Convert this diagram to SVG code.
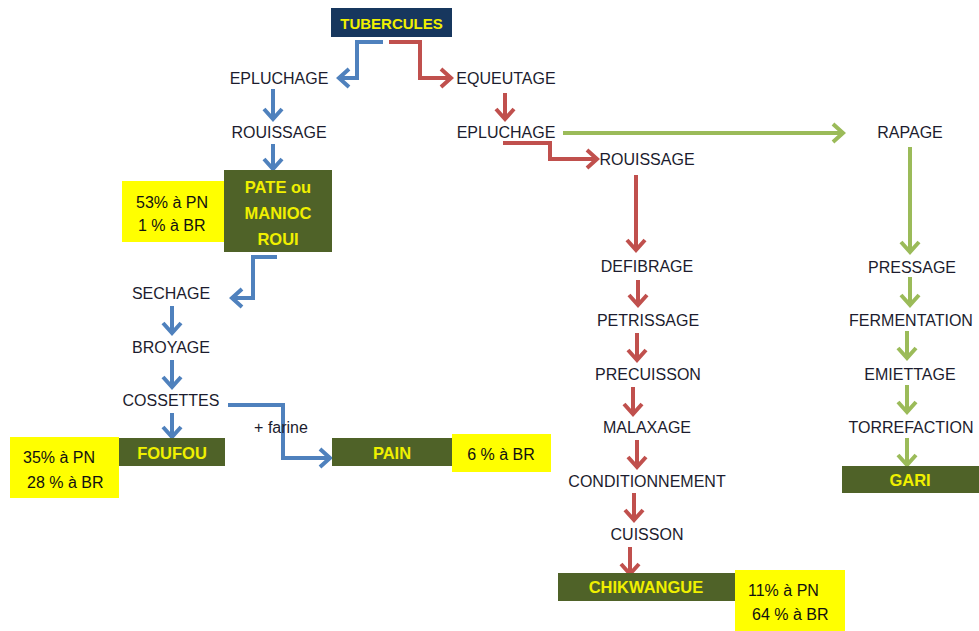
<svg xmlns="http://www.w3.org/2000/svg" width="979" height="631" viewBox="0 0 979 631">
<defs>
<style>
.t{font-family:"Liberation Sans",Arial,sans-serif;font-size:16px;fill:#1c1c2e;text-anchor:middle;dominant-baseline:central}
.y{font-family:"Liberation Sans",Arial,sans-serif;font-size:16px;fill:#111;dominant-baseline:central}
.b{font-family:"Liberation Sans",Arial,sans-serif;font-size:16.5px;font-weight:bold;fill:#f0f000;text-anchor:middle;dominant-baseline:central}
.g{fill:#4f6228}
.yb{fill:#ffff00}
.cb{fill:none;stroke:#4f81bd;stroke-width:4;stroke-linejoin:miter;marker-end:url(#mb)}
.cr{fill:none;stroke:#c0504d;stroke-width:4;stroke-linejoin:miter;marker-end:url(#mr)}
.cg{fill:none;stroke:#9bbb59;stroke-width:4;stroke-linejoin:miter;marker-end:url(#mg)}
</style>
<marker id="mb" markerUnits="userSpaceOnUse" viewBox="-14 -12 16 24" refX="0" refY="0" markerWidth="16" markerHeight="24" orient="auto" overflow="visible"><path d="M-10,-9 L0,0 L-10,9" fill="none" stroke="#4f81bd" stroke-width="4"/></marker>
<marker id="mr" markerUnits="userSpaceOnUse" viewBox="-14 -12 16 24" refX="0" refY="0" markerWidth="16" markerHeight="24" orient="auto" overflow="visible"><path d="M-10,-9 L0,0 L-10,9" fill="none" stroke="#c0504d" stroke-width="4"/></marker>
<marker id="mg" markerUnits="userSpaceOnUse" viewBox="-14 -12 16 24" refX="0" refY="0" markerWidth="16" markerHeight="24" orient="auto" overflow="visible"><path d="M-10,-9 L0,0 L-10,9" fill="none" stroke="#9bbb59" stroke-width="4"/></marker>
</defs>
<rect width="979" height="631" fill="#ffffff"/>

<g id="connectors">
<path class="cb" d="M383,42 H357 V78 H339"/>
<path class="cb" d="M273,89 V119"/>
<path class="cb" d="M273,144 V169"/>
<path class="cb" d="M277,257 H253 V298 H232"/>
<path class="cb" d="M172,306 V333"/>
<path class="cb" d="M172,360 V387"/>
<path class="cb" d="M172,413 V437"/>
<path class="cb" d="M228,405 H283 V458 H330"/>
<path class="cr" d="M389,42 H420 V78 H451"/>
<path class="cr" d="M505,93 V119"/>
<path class="cr" d="M503,143 H550 V159 H597"/>
<path class="cr" d="M636,175 V250"/>
<path class="cr" d="M638,280 V305"/>
<path class="cr" d="M637,333 V360"/>
<path class="cr" d="M633,387 V414"/>
<path class="cr" d="M637,440 V467"/>
<path class="cr" d="M634,493 V520"/>
<path class="cr" d="M630,547 V574"/>
<path class="cg" d="M563,133 H843"/>
<path class="cg" d="M910,147 V252"/>
<path class="cg" d="M910,277 V305"/>
<path class="cg" d="M907,331 V358"/>
<path class="cg" d="M907,385 V412"/>
<path class="cg" d="M907,438 V465"/>
</g>

<g id="tubercules"><rect x="331" y="8" width="121" height="29" fill="#17375e"/><text class="b" x="391.5" y="23" style="font-size:15px">TUBERCULES</text></g>
<g id="epluchage1"><text class="t" x="279" y="78">EPLUCHAGE</text></g>
<g id="rouissage1"><text class="t" x="279" y="132">ROUISSAGE</text></g>
<g id="pate"><rect class="g" x="224" y="170" width="108" height="82"/><text class="b" x="278" y="187">PATE ou</text><text class="b" x="278" y="213">MANIOC</text><text class="b" x="278" y="239">ROUI</text></g>
<g id="note53"><rect class="yb" x="122" y="181" width="102" height="61"/><text class="y" x="136" y="202">53% à PN</text><text class="y" x="138" y="225">1 % à BR</text></g>
<g id="sechage"><text class="t" x="171" y="293">SECHAGE</text></g>
<g id="broyage"><text class="t" x="171" y="347">BROYAGE</text></g>
<g id="cossettes"><text class="t" x="171" y="400">COSSETTES</text></g>
<g id="foufou"><rect class="g" x="119" y="438" width="106" height="28"/><text class="b" x="172" y="453">FOUFOU</text></g>
<g id="note35"><rect class="yb" x="10" y="437" width="109" height="61"/><text class="y" x="23" y="457">35% à PN</text><text class="y" x="27" y="482">28 % à BR</text></g>
<g id="farine"><text class="t" x="281" y="427">+ farine</text></g>
<g id="pain"><rect class="g" x="332" y="438" width="120" height="28"/><text class="b" x="392" y="453">PAIN</text></g>
<g id="note6"><rect class="yb" x="452" y="434" width="99" height="38"/><text class="y" x="501" y="454" text-anchor="middle">6 % à BR</text></g>

<g id="equeutage"><text class="t" x="506" y="78">EQUEUTAGE</text></g>
<g id="epluchage2"><text class="t" x="506" y="132">EPLUCHAGE</text></g>
<g id="rouissage2"><text class="t" x="647" y="159">ROUISSAGE</text></g>
<g id="defibrage"><text class="t" x="647" y="266">DEFIBRAGE</text></g>
<g id="petrissage"><text class="t" x="648" y="320">PETRISSAGE</text></g>
<g id="precuisson"><text class="t" x="648" y="374">PRECUISSON</text></g>
<g id="malaxage"><text class="t" x="647" y="427">MALAXAGE</text></g>
<g id="conditionnement"><text class="t" x="647" y="481">CONDITIONNEMENT</text></g>
<g id="cuisson"><text class="t" x="647" y="534">CUISSON</text></g>
<g id="chikwangue"><rect class="g" x="558" y="573" width="177" height="28"/><text class="b" x="646" y="587">CHIKWANGUE</text></g>
<g id="note11"><rect class="yb" x="735" y="570" width="110" height="61"/><text class="y" x="748" y="590">11% à PN</text><text class="y" x="752" y="614">64 % à BR</text></g>

<g id="rapage"><text class="t" x="910" y="132">RAPAGE</text></g>
<g id="pressage"><text class="t" x="912" y="267">PRESSAGE</text></g>
<g id="fermentation"><text class="t" x="911" y="320">FERMENTATION</text></g>
<g id="emiettage"><text class="t" x="910" y="374">EMIETTAGE</text></g>
<g id="torrefaction"><text class="t" x="911" y="427">TORREFACTION</text></g>
<g id="gari"><rect class="g" x="842" y="466" width="137" height="27"/><text class="b" x="910" y="480">GARI</text></g>
</svg>
